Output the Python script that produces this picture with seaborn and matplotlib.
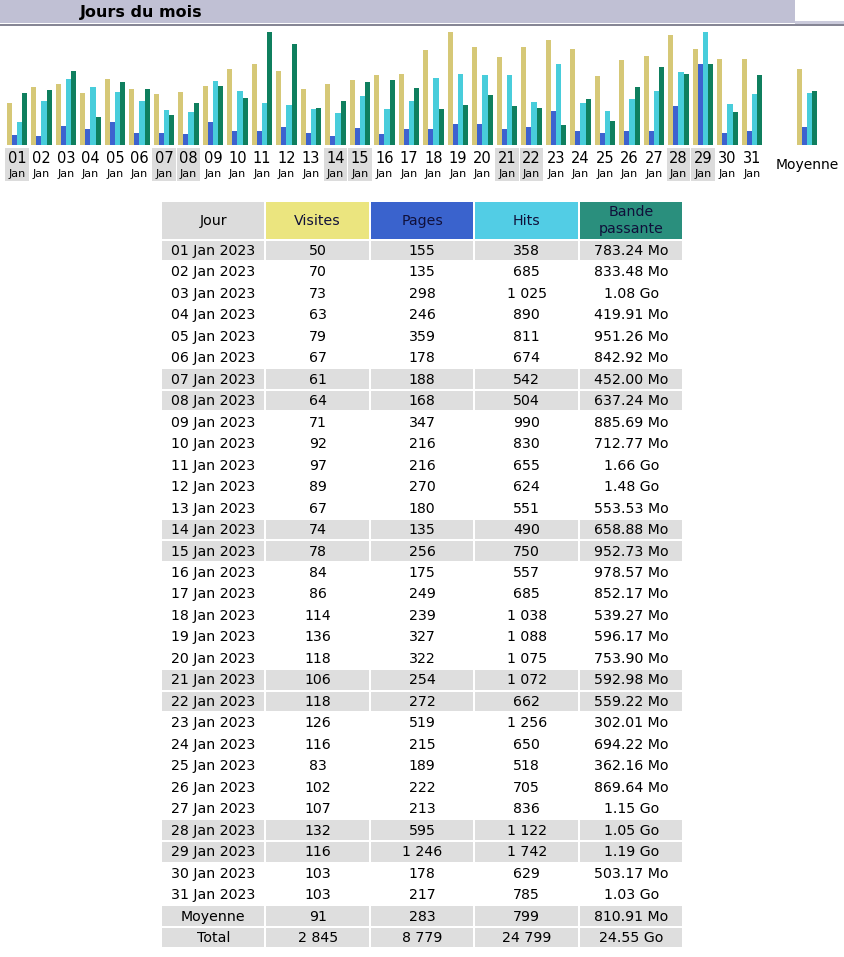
import pandas as pd
import matplotlib
matplotlib.use("Agg")
import matplotlib.pyplot as plt
import matplotlib.transforms as mtrans
from matplotlib.patches import Rectangle
import seaborn as sns

# Données du mois (lues dans le tableau)
days = list(range(1, 32))
visits = [50, 70, 73, 63, 79, 67, 61, 64, 71, 92, 97, 89, 67, 74, 78, 84,
          86, 114, 136, 118, 106, 118, 126, 116, 83, 102, 107, 132, 116, 103, 103]
pages = [155, 135, 298, 246, 359, 178, 188, 168, 347, 216, 216, 270, 180, 135, 256, 175,
         249, 239, 327, 322, 254, 272, 519, 215, 189, 222, 213, 595, 1246, 178, 217]
hits = [358, 685, 1025, 890, 811, 674, 542, 504, 990, 830, 655, 624, 551, 490, 750, 557,
        685, 1038, 1088, 1075, 1072, 662, 1256, 650, 518, 705, 836, 1122, 1742, 629, 785]
bandwidth = ["783.24 Mo", "833.48 Mo", "1.08 Go", "419.91 Mo", "951.26 Mo", "842.92 Mo",
             "452.00 Mo", "637.24 Mo", "885.69 Mo", "712.77 Mo", "1.66 Go", "1.48 Go",
             "553.53 Mo", "658.88 Mo", "952.73 Mo", "978.57 Mo", "852.17 Mo", "539.27 Mo",
             "596.17 Mo", "753.90 Mo", "592.98 Mo", "559.22 Mo", "302.01 Mo", "694.22 Mo",
             "362.16 Mo", "869.64 Mo", "1.15 Go", "1.05 Go", "1.19 Go", "503.17 Mo", "1.03 Go"]
avg_row = [91, 283, 799, "810.91 Mo"]
total_row = [2845, 8779, 24799, "24.55 Go"]

headers = ["Jour", "Visites", "Pages", "Hits", "Bande\npassante"]
header_colors = ["#dcdcdc", "#ebe57f", "#3a63cd", "#52cde5", "#2a8f7d"]
bar_colors = ["#d6c877", "#3d62cf", "#48cddb", "#0f7f5e"]

W, H = 845, 957


def to_mo(s):
    num, unit = s.split()
    return float(num) * (1024 if unit == "Go" else 1)


def fmt(v):
    return f"{v:,}".replace(",", " ") if isinstance(v, int) else v


dates = pd.date_range("2023-01-01", periods=31, freq="D")
weekend = [d.dayofweek >= 5 for d in dates]

# Hauteurs normalisées comme AWStats (pages et hits sur la même échelle)
bw_mo = [to_mo(b) for b in bandwidth]
avg_pos = 33.24
pos = days + [avg_pos]
vis_all = visits + [avg_row[0]]
pag_all = pages + [avg_row[1]]
hit_all = hits + [avg_row[2]]
bw_all = bw_mo + [to_mo(avg_row[3])]
max_hits = max(hits)
df = pd.concat([
    pd.DataFrame({"pos": pos, "metric": "Visites", "h": [v / max(visits) for v in vis_all]}),
    pd.DataFrame({"pos": pos, "metric": "Pages", "h": [v / max_hits for v in pag_all]}),
    pd.DataFrame({"pos": pos, "metric": "Hits", "h": [v / max_hits for v in hit_all]}),
    pd.DataFrame({"pos": pos, "metric": "Bande passante", "h": [v / max(bw_mo) for v in bw_all]}),
])

sns.set_style("white")
plt.rcParams["font.family"] = ["DejaVu Sans"]
plt.rcParams["text.color"] = "#000000"

fig = plt.figure(figsize=(W / 100, H / 100), dpi=100)
page = fig.add_axes([0, 0, 1, 1])
page.set_xlim(0, W)
page.set_ylim(H, 0)
page.axis("off")

# Bandeau de titre
page.add_patch(Rectangle((0, 0), 795, 23, color="#c0c0d4", lw=0))
page.add_patch(Rectangle((795, 21), 50, 2.5, color="#cacadb", lw=0))
page.plot([0, W], [24.5, 24.5], color="#6e6e80", lw=1.2)
page.text(80, 12, "Jours du mois", fontsize=11.5, fontweight="bold", va="center", ha="left")

# Graphique en barres
chart = fig.add_axes([0, (H - 145) / H, 1, 113 / H])
chart.patch.set_alpha(0)
sns.barplot(data=df, x="pos", y="h", hue="metric",
            hue_order=["Visites", "Pages", "Hits", "Bande passante"],
            palette=bar_colors, native_scale=True, width=0.82, dodge=True,
            saturation=1, linewidth=0, legend=False, ax=chart)
lo = 1 - 17 / 24.5
chart.set_xlim(lo, lo + W / 24.5)
chart.set_ylim(0, 1)
chart.axis("off")

lab = mtrans.blended_transform_factory(chart.transData, page.transData)
for d, we in zip(days, weekend):
    if we:
        page.add_patch(Rectangle((d - 0.47, 148), 0.94, 33, color="#dcdcdc", lw=0, transform=lab))
    page.text(d, 158.5, f"{d:02d}", transform=lab, ha="center", va="center", fontsize=10.5)
    page.text(d, 174, "Jan", transform=lab, ha="center", va="center", fontsize=8)
page.text(avg_pos, 165, "Moyenne", transform=lab, ha="center", va="center", fontsize=10)

# Tableau
col_left = [162 + 104.5 * i for i in range(5)]
col_w = 102.5
head_top, head_h = 202.3, 36.5
row_top0, row_pitch, row_h = 240.5, 21.48, 19.6
fs = 10.2

for i, (txt, c) in enumerate(zip(headers, header_colors)):
    page.add_patch(Rectangle((col_left[i], head_top), col_w, head_h, color=c, lw=0))
    tc = "#000000" if i == 0 else "#10103a"
    lines = txt.split("\n")
    if len(lines) == 1:
        page.text(col_left[i] + col_w / 2, head_top + head_h / 2, txt, ha="center",
                  va="center", fontsize=fs, color=tc)
    else:
        page.text(col_left[i] + col_w / 2, head_top + 9.5, lines[0], ha="center",
                  va="center", fontsize=fs, color=tc)
        page.text(col_left[i] + col_w / 2, head_top + 27, lines[1], ha="center",
                  va="center", fontsize=fs, color=tc)

rows = []
for k in range(31):
    rows.append(([dates[k].strftime("%d Jan %Y"), visits[k], pages[k], hits[k], bandwidth[k]],
                 weekend[k]))
rows.append((["Moyenne"] + avg_row, True))
rows.append((["Total"] + total_row, True))

for r, (vals, grey) in enumerate(rows):
    top = row_top0 + row_pitch * r
    for i, v in enumerate(vals):
        if grey:
            page.add_patch(Rectangle((col_left[i], top), col_w, row_h, color="#dedede", lw=0))
        page.text(col_left[i] + col_w / 2, top + row_h / 2 + 0.5, fmt(v), ha="center",
                  va="center", fontsize=fs, color="#000000")

fig.savefig("out.png", dpi=100)
